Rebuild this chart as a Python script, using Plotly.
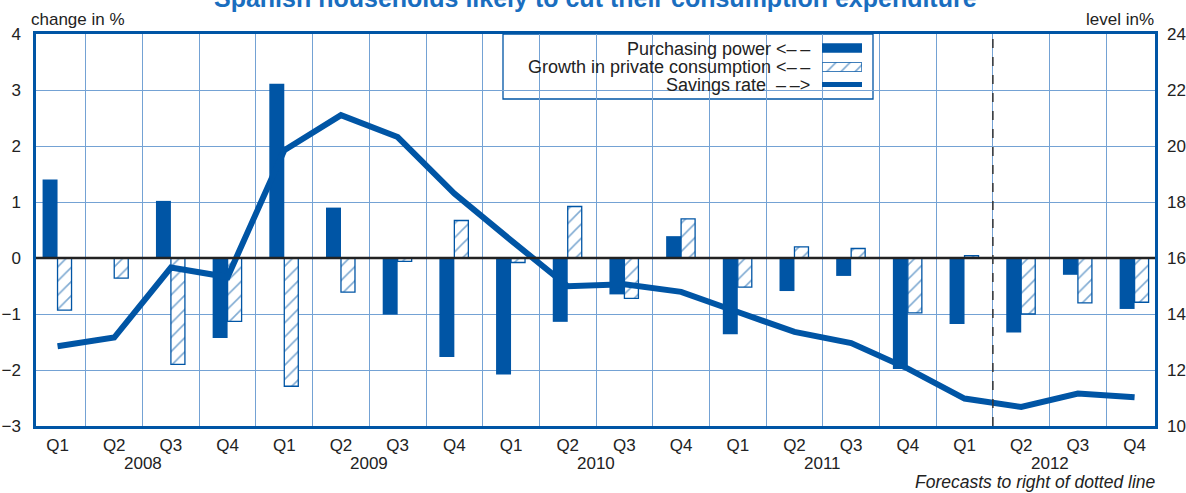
import plotly.graph_objects as go

# Quarterly data, 2008-2012
quarters = ["Q1", "Q2", "Q3", "Q4"] * 5
years = ["2008", "2009", "2010", "2011", "2012"]

# change in % (left axis)
purchasing_power = [1.40, 0.00, 1.02, -1.43, 3.11, 0.90, -1.01, -1.77, -2.08, -1.14,
                    -0.65, 0.39, -1.36, -0.59, -0.32, -1.98, -1.18, -1.33, -0.30, -0.91]
consumption_growth = [-0.93, -0.36, -1.90, -1.13, -2.29, -0.61, -0.06, 0.67, -0.08, 0.92,
                      -0.72, 0.70, -0.52, 0.20, 0.17, -0.98, 0.04, -1.00, -0.80, -0.79]
# level in % (right axis)
savings_rate = [12.85, 13.16, 15.66, 15.32, 19.85, 21.10, 20.32, 18.30, 16.63, 14.99,
                15.06, 14.79, 14.07, 13.36, 12.96, 12.05, 10.98, 10.68, 11.16, 11.03]

forecast_start = 16  # last actual quarter index (Q1 2012)

left_ticks = [-3, -2, -1, 0, 1, 2, 3, 4]
right_ticks = [10, 12, 14, 16, 18, 20, 22, 24]

BLUE = "#0055a5"
GRID = "#74a2d4"
FONT = "Liberation Sans, Arial, Helvetica, sans-serif"

W, H = 1186, 493
ML, MR, MT, MB = 36, 31, 34, 67
PW, PH = W - ML - MR, H - MT - MB


def px(x):
    return (x - ML) / PW


def py(y):
    return 1 - (y - MT) / PH


idx = list(range(len(quarters)))
hatch = dict(shape="/", fgcolor=BLUE, bgcolor="white", size=10, solidity=0.16)

fig = go.Figure()

fig.add_trace(go.Bar(
    x=idx, y=purchasing_power, width=0.264, offset=-0.264,
    marker=dict(color=BLUE, line=dict(width=0)),
    name="Purchasing power", showlegend=False,
))
fig.add_trace(go.Bar(
    x=idx, y=consumption_growth, width=0.247, offset=0,
    marker=dict(color="white", line=dict(color=BLUE, width=1.3), pattern=hatch),
    name="Growth in private consumption", showlegend=False,
))
fig.add_trace(go.Scatter(
    x=idx, y=savings_rate, yaxis="y2", mode="lines",
    line=dict(color=BLUE, width=6),
    name="Savings rate", showlegend=False,
))

# hatched swatch for the hand-built legend
fig.add_trace(go.Bar(
    x=[0], y=[1], width=1, xaxis="x3", yaxis="y3",
    marker=dict(color="white", line=dict(color=BLUE, width=1.3), pattern=hatch),
    showlegend=False, hoverinfo="skip",
))

fig.update_layout(
    width=W, height=H,
    margin=dict(l=ML, r=MR, t=MT, b=MB),
    paper_bgcolor="white", plot_bgcolor="white",
    barmode="overlay",
    showlegend=False,
    font=dict(family=FONT, size=17, color="#222222"),
    xaxis=dict(
        range=[-0.38, 19.36], automargin=False,
        tickmode="array", tickvals=idx, ticktext=quarters,
        showgrid=False, zeroline=False,
        showline=True, linecolor=BLUE, linewidth=2.5, mirror=True,
        ticks="", ticklabelstandoff=2,
        tickfont=dict(size=17, color="#222222"),
        minor=dict(tickmode="array", tickvals=[i + 0.5 for i in idx[:-1]],
                   showgrid=True, gridcolor=GRID, gridwidth=1.2, ticks=""),
    ),
    yaxis=dict(
        range=[-3, 4], tickmode="array", tickvals=left_ticks, automargin=False,
        showgrid=True, gridcolor=GRID, gridwidth=1.2,
        zeroline=False,
        showline=True, linecolor=BLUE, linewidth=2.5, mirror=True,
        ticks="", ticklabelstandoff=9,
        tickfont=dict(size=17, color="#222222"),
    ),
    yaxis2=dict(
        range=[10, 24], tickmode="array", tickvals=right_ticks, automargin=False,
        overlaying="y", side="right", showgrid=False, zeroline=False,
        showline=False, ticks="", ticklabelstandoff=11,
        tickfont=dict(size=17, color="#222222"),
    ),
    xaxis3=dict(domain=[px(822), px(862)], range=[-0.5, 0.5], visible=False,
                anchor="y3", fixedrange=True),
    yaxis3=dict(domain=[py(71.7), py(62.3)], range=[0, 1], visible=False,
                anchor="x3", fixedrange=True),
)

shapes = [
    # zero line
    dict(type="line", xref="paper", yref="y", x0=0, x1=1, y0=0, y1=0,
         line=dict(color="#222222", width=2.5), layer="above"),
    # forecast divider
    dict(type="line", xref="x", yref="paper", x0=forecast_start + 0.5,
         x1=forecast_start + 0.5, y0=0, y1=1,
         line=dict(color="#333333", width=1.5, dash="dash"), layer="above"),
    # legend box (covers the grid, stays under the swatch trace)
    dict(type="rect", xref="paper", yref="paper", x0=px(503), x1=px(873),
         y0=py(99), y1=py(34), fillcolor="white",
         line=dict(color=BLUE, width=1.3), layer="between"),
    # legend swatches
    dict(type="rect", xref="paper", yref="paper", x0=px(822), x1=px(862),
         y0=py(52.7), y1=py(43.3), fillcolor=BLUE, line=dict(width=0),
         layer="above"),
    dict(type="line", xref="paper", yref="paper", x0=px(822), x1=px(862),
         y0=py(84.5), y1=py(84.5), line=dict(color=BLUE, width=5),
         layer="above"),
]
fig.update_layout(shapes=shapes)

annotations = [
    dict(text="<b>Spanish households likely to cut their consumption expenditure</b>",
         xref="paper", yref="paper", x=px(595), y=1, xanchor="center",
         yanchor="bottom", yshift=20, showarrow=False,
         font=dict(size=25, color="#1a6ebf", family=FONT)),
    dict(text="change in %", xref="paper", yref="paper", x=px(29), y=1,
         xanchor="left", yanchor="bottom", yshift=3, showarrow=False,
         font=dict(size=17)),
    dict(text="level in%", xref="paper", yref="paper", x=px(1156), y=1,
         xanchor="right", yanchor="bottom", yshift=3, showarrow=False,
         font=dict(size=17)),
    dict(text="<i>Forecasts to right of dotted line</i>", xref="paper",
         yref="paper", x=px(1157), y=py(482), xanchor="right",
         yanchor="middle", showarrow=False, borderpad=0,
         font=dict(size=17.5)),
]

arrow_left = "<\u2013\u2009\u2013"
arrow_right = "\u2013\u2009\u2013>"
legend_rows = [
    ("Purchasing power " + arrow_left, 48.5),
    ("Growth in private consumption " + arrow_left, 66.5),
    ("Savings rate \u00a0" + arrow_right, 85),
]
for label, ypix in legend_rows:
    annotations.append(dict(
        text=label, xref="paper", yref="paper", x=px(812), y=py(ypix),
        xanchor="right", yanchor="middle", showarrow=False,
        font=dict(size=18, color="#222222")))

for k, yr in enumerate(years):
    annotations.append(dict(
        text=yr, xref="x", yref="paper", x=4 * k + 1.5, y=py(463.5),
        xanchor="center", yanchor="middle", showarrow=False, borderpad=0,
        font=dict(size=17)))

fig.update_layout(annotations=annotations)

fig.write_html("out.html")
